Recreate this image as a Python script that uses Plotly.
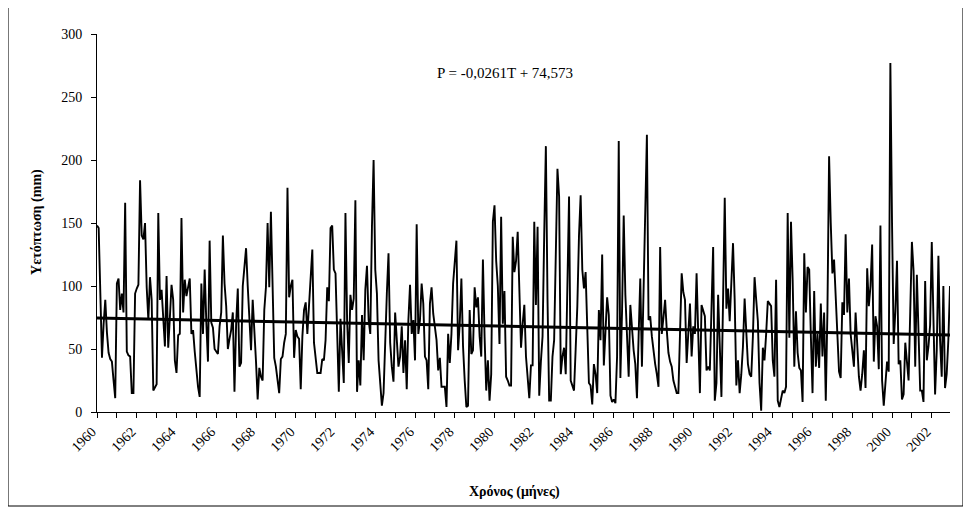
import plotly.graph_objects as go

# Monthly precipitation (mm), January 1960 onwards
p_1960s = [148, 146, 95, 43, 70, 89, 63, 47, 42, 40, 25, 11,
           102, 106, 81, 94, 79, 166, 48, 45, 44, 15, 15, 94,
           98, 101, 184, 140, 137, 150, 99, 73, 107, 89, 17, 20,
           22, 158, 89, 97, 74, 52, 108, 51, 75, 101, 89, 41,
           31, 61, 62, 154, 79, 105, 92, 100, 106, 62, 65, 48,
           30, 20, 12, 102, 62, 113, 71, 40, 136, 71, 67, 50,
           48, 46, 68, 79, 140, 102, 84, 50, 58, 65, 79, 16,
           70, 98, 36, 39, 100, 115, 130, 100, 70, 49, 89, 67,
           40, 10, 35, 28, 25, 81, 99, 150, 99, 159, 90, 43,
           36, 25, 15, 42, 44, 55, 62, 178, 91, 100, 105, 43]
p_1970s = [65, 60, 58, 18, 60, 81, 87, 62, 83, 107, 129, 55,
           40, 31, 31, 31, 42, 41, 57, 99, 88, 146, 148, 113,
           110, 65, 16, 74, 52, 23, 158, 73, 39, 93, 81, 90,
           168, 16, 41, 21, 77, 41, 97, 116, 73, 62, 147, 200,
           113, 94, 41, 25, 5, 15, 60, 94, 126, 55, 36, 24,
           79, 55, 36, 44, 68, 31, 57, 18, 73, 101, 62, 73,
           41, 149, 62, 73, 102, 86, 44, 41, 18, 86, 99, 78,
           65, 57, 33, 43, 20, 20, 20, 4, 62, 39, 62, 102,
           120, 136, 49, 70, 106, 52, 25, 4, 5, 81, 46, 49,
           99, 83, 91, 60, 44, 121, 60, 17, 41, 9, 30, 151]
p_1980s = [164, 120, 100, 54, 155, 70, 96, 28, 25, 21, 21, 139,
           111, 120, 143, 100, 51, 70, 85, 44, 23, 11, 37, 37,
           151, 85, 147, 13, 40, 60, 140, 211, 89, 9, 9, 44,
           57, 120, 193, 171, 30, 44, 51, 30, 100, 171, 25, 20,
           17, 50, 84, 140, 172, 113, 98, 111, 60, 23, 21, 6,
           38, 30, 15, 81, 57, 125, 37, 60, 91, 77, 13, 8,
           10, 7, 44, 215, 27, 80, 156, 93, 60, 28, 85, 62,
           49, 38, 11, 60, 106, 36, 95, 160, 220, 73, 76, 60,
           47, 38, 30, 20, 131, 62, 75, 89, 65, 47, 40, 36,
           25, 20, 15, 15, 60, 110, 95, 89, 39, 60, 86, 44]
p_1990s = [68, 62, 110, 62, 15, 85, 80, 76, 33, 36, 33, 80,
           131, 9, 23, 93, 50, 12, 90, 170, 82, 98, 72, 100,
           134, 89, 21, 41, 15, 30, 52, 90, 60, 38, 30, 28,
           60, 107, 89, 72, 23, 1, 51, 41, 62, 88, 86, 84,
           41, 28, 105, 9, 4, 12, 17, 15, 20, 158, 59, 151,
           105, 36, 80, 47, 35, 33, 8, 126, 79, 115, 113, 60,
           15, 96, 36, 62, 35, 86, 44, 79, 9, 80, 203, 150,
           110, 121, 90, 62, 32, 27, 87, 77, 141, 79, 106, 62,
           47, 36, 79, 57, 28, 17, 30, 49, 19, 114, 84, 100,
           133, 40, 76, 68, 34, 148, 25, 5, 20, 40, 32, 277]
p_2000s = [150, 54, 80, 120, 38, 41, 10, 14, 55, 40, 25, 80,
           135, 112, 36, 109, 52, 17, 17, 8, 104, 41, 52, 69,
           135, 60, 14, 49, 124, 57, 28, 100, 19, 30, 57, 100]

tick_years = [str(y) for y in range(1960, 2003, 2)]
y_ticks = [0, 50, 100, 150, 200, 250, 300]

trend_slope = -0.0261
trend_intercept = 74.573
equation_text = "P = -0,0261T + 74,573"
x_title = "Χρόνος (μήνες)"
y_title = "Υετόπτωση (mm)"

precip = p_1960s + p_1970s + p_1980s + p_1990s + p_2000s
months = list(range(1, len(precip) + 1))
tick_pos = [1 + 24 * i for i in range(len(tick_years))]
trend_x = [months[0], months[-1]]
trend_y = [trend_slope * t + trend_intercept for t in trend_x]

FONT = "Liberation Serif, Times New Roman, serif"

fig = go.Figure()
fig.add_trace(go.Scatter(x=months, y=precip, mode="lines",
                         line=dict(color="black", width=1.9), showlegend=False,
                         hoverinfo="skip"))
fig.add_trace(go.Scatter(x=trend_x, y=trend_y, mode="lines",
                         line=dict(color="black", width=3), showlegend=False,
                         hoverinfo="skip"))

fig.update_layout(
    width=963, height=502,
    margin=dict(l=89, r=21, t=26, b=98),
    paper_bgcolor="white", plot_bgcolor="white",
    font=dict(family=FONT, size=14, color="black"),
    xaxis=dict(range=[1, len(precip)], tickmode="array", tickvals=tick_pos,
               ticktext=tick_years, tickangle=-45, ticks="outside", ticklen=5,
               tickcolor="black", showline=True, linecolor="black", linewidth=1,
               showgrid=False, zeroline=False, ticklabelshift=-5,
               minor=dict(tickmode="array",
                          tickvals=[1 + 12 * i for i in range(44)],
                          ticks="outside", ticklen=5, tickcolor="black"),
               tickfont=dict(family=FONT, size=14)),
    yaxis=dict(range=[0, 300], tickmode="array", tickvals=y_ticks,
               ticks="outside", ticklen=5, tickcolor="black", showline=True,
               linecolor="black", linewidth=1, showgrid=False, zeroline=False,
               ticklabelstandoff=6,
               tickfont=dict(family=FONT, size=14)),
    annotations=[
        dict(text=equation_text, xref="paper", yref="paper", x=0.478, y=0.897,
             xanchor="center", yanchor="middle",
             showarrow=False, font=dict(family=FONT, size=15)),
        dict(text="<b>" + x_title + "</b>", xref="paper", yref="paper",
             x=0.49, y=-0.212, xanchor="center", yanchor="middle",
             showarrow=False, font=dict(family=FONT, size=14)),
        dict(text="<b>" + y_title + "</b>", xref="paper", yref="paper",
             x=-0.0703, y=0.503, textangle=-90, xanchor="center", yanchor="middle",
             showarrow=False, font=dict(family=FONT, size=14)),
    ],
    shapes=[dict(type="rect", xref="paper", yref="paper",
                 x0=-0.1043, x1=1.0152, y0=-0.2487, y1=1.074,
                 line=dict(color="black", width=1))],
)

fig.write_html("out.html")
